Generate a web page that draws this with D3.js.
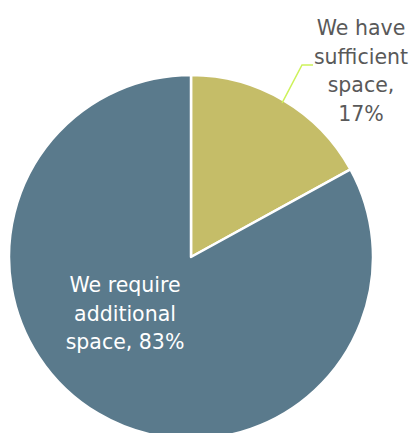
<!DOCTYPE html>
<html>
<head>
<meta charset="utf-8">
<script src="https://cdn.jsdelivr.net/npm/d3@7"></script>
<style>
  body { margin: 0; background: #fff; }
  text { font-family: "DejaVu Sans", Verdana, sans-serif; font-size: 20.5px; }
</style>
</head>
<body>
<div id="chart"></div>
<script>
// Data
const categories = ['We have sufficient space', 'We require additional space'];
const values = [17, 83];
const labelLines = [
    ['We have', 'sufficient', 'space,', '17%'],
    ['We require', 'additional', 'space, 83%']
];
const colors = ['#C5BD68', '#5A7A8C'];

const width = 416, height = 433;
const cx = 191, cy = 257, radius = 182;

const svg = d3.select('#chart').append('svg')
    .attr('width', width)
    .attr('height', height);

const g = svg.append('g').attr('transform', `translate(${cx},${cy})`);

const pie = d3.pie().sort(null).value(d => d);
const arcs = pie(values);
const arc = d3.arc().innerRadius(0).outerRadius(radius);

g.selectAll('path.slice')
    .data(arcs)
    .join('path')
    .attr('class', 'slice')
    .attr('d', arc)
    .attr('fill', (d, i) => colors[i])
    .attr('stroke', '#fff')
    .attr('stroke-width', 2.5)
    .attr('stroke-linejoin', 'round');

// Leader line for small slice
const a0 = arcs[0];
const mid = (a0.startAngle + a0.endAngle) / 2;
const p0 = [Math.sin(mid) * (radius - 3), -Math.cos(mid) * (radius - 3)];
const p1 = [111, -192];
const p2 = [122, -192];
g.append('polyline')
    .attr('points', [p0, p1, p2].map(p => p.join(',')).join(' '))
    .attr('fill', 'none')
    .attr('stroke', '#CDF25A')
    .attr('stroke-width', 1.5);

// Outside label
const outLabel = svg.append('text')
    .attr('text-anchor', 'middle')
    .attr('fill', '#595959');
labelLines[0].forEach((t, i) => {
    outLabel.append('tspan').attr('x', 361).attr('y', 35 + i * 28.5).text(t);
});

// Inside label
const inLabel = svg.append('text')
    .attr('text-anchor', 'middle')
    .attr('fill', '#fff');
labelLines[1].forEach((t, i) => {
    inLabel.append('tspan').attr('x', 125).attr('y', 292 + i * 28.5).text(t);
});
</script>
</body>
</html>
